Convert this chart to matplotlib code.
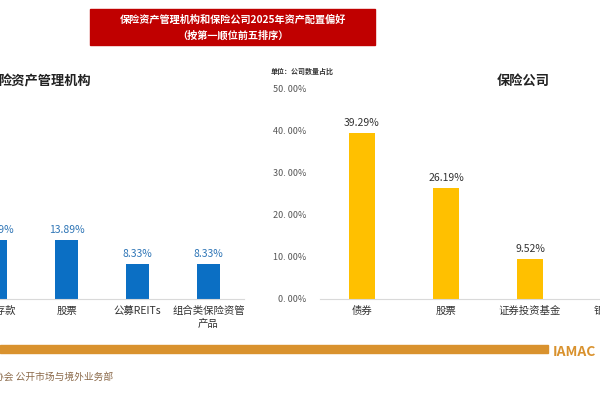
import matplotlib
matplotlib.use("Agg")
import matplotlib.pyplot as plt
from matplotlib.patches import Rectangle

plt.rcParams["font.family"] = "Noto Sans CJK SC"

left_cats = ["银行存款", "股票", "公募REITs", "组合类保险资管\n产品"]
left_vals = [13.89, 13.89, 8.33, 8.33]
right_cats = ["债券", "股票", "证券投资基金", "银行存款"]
right_vals = [39.29, 26.19, 9.52, 9.52]
yticks = [0, 10, 20, 30, 40, 50]

W, H = 600, 400
fig = plt.figure(figsize=(6, 4), dpi=100)

def ax_at(x0, y0, x1, y1):
    return fig.add_axes([x0 / W, 1 - y1 / H, (x1 - x0) / W, (y1 - y0) / H])

def style(ax):
    for s in ["top", "right", "left"]:
        ax.spines[s].set_visible(False)
    ax.spines["bottom"].set_color("#d9d9d9")
    ax.set_ylim(0, 50)
    ax.set_xlim(-0.5, 3.5)
    ax.tick_params(axis="x", length=0, labelsize=7.5, colors="#333333", pad=5)
    ax.patch.set_alpha(0)

# left chart
axL = ax_at(-40, 88, 244, 299)
style(axL)
xs = range(len(left_vals))
axL.bar(xs, left_vals, width=0.31, color="#0B6FC4")
for x, v in zip(xs, left_vals):
    axL.text(x, v + 1.2, f"{v:.2f}%", ha="center", va="bottom", fontsize=7.5, color="#2E75B6")
axL.set_xticks(list(xs))
axL.set_xticklabels(left_cats, linespacing=1.3)
axL.set_yticks([])

# right chart
axR = ax_at(320, 88, 656, 299)
style(axR)
xs = range(len(right_vals))
axR.bar(xs, right_vals, width=0.31, color="#FFC000")
for x, v in zip(xs, right_vals):
    axR.text(x, v + 1.2, f"{v:.2f}%", ha="center", va="bottom", fontsize=7.5, color="#333333")
axR.set_xticks(list(xs))
axR.set_xticklabels(right_cats)
axR.set_yticks(yticks)
axR.set_yticklabels([f"{t:.2f}%".replace(".", ". ") for t in yticks])
axR.tick_params(axis="y", length=0, labelsize=6.5, colors="#555555", pad=10)

# title box
fig.patches.append(Rectangle((90 / W, 1 - 45 / H), 285 / W, 36 / H,
                             transform=fig.transFigure, color="#C00000", zorder=0))
fig.text(233 / W, 1 - 20 / H, "保险资产管理机构和保险公司2025年资产配置偏好", ha="center", va="center",
         fontsize=7.3, color="white", fontweight="bold")
fig.text(233 / W, 1 - 36 / H, "（按第一顺位前五排序）", ha="center", va="center",
         fontsize=7.3, color="white", fontweight="bold")

fig.text(-2 / W, 1 - 81 / H, "险资产管理机构", ha="left", va="center", fontsize=9.5, fontweight="bold", color="#222222")
fig.text(523 / W, 1 - 81 / H, "保险公司", ha="center", va="center", fontsize=9.5, fontweight="bold", color="#222222")
fig.text(302 / W, 1 - 71 / H, "单位：公司数量占比", ha="center", va="center", fontsize=5, fontweight="bold", color="#333333")

# footer
fig.patches.append(Rectangle((0, 1 - 353 / H), 548 / W, 8 / H, transform=fig.transFigure, color="#D9922E"))
fig.text(553 / W, 1 - 352 / H, "IAMAC", ha="left", va="center", fontsize=10, fontweight="bold", color="#D9922E")
fig.text(-6 / W, 1 - 377 / H, "协会 公开市场与境外业务部", ha="left", va="center", fontsize=7, color="#8B6A4A")

fig.savefig("out.png", dpi=100)
